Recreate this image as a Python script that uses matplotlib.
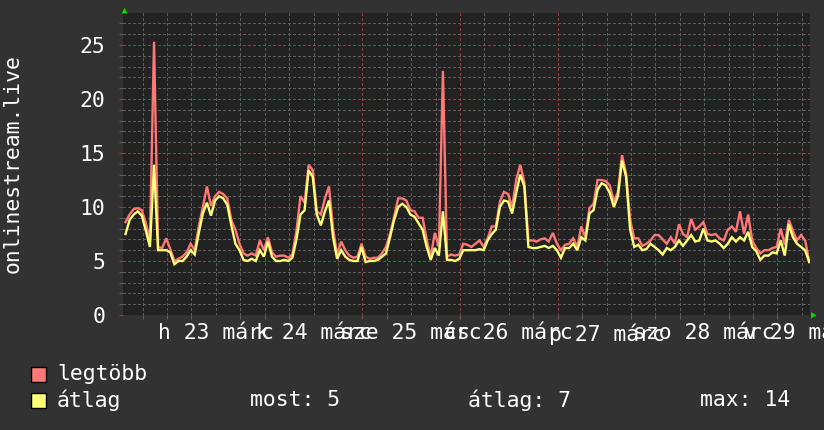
import matplotlib
matplotlib.use("Agg")
import matplotlib.pyplot as plt
from matplotlib.patches import Polygon, Rectangle
import numpy as np

# ---------------- data (hourly, starting ~13:20 on 22 March) ----------------
avg_values = [
    7.5, 8.8, 9.3, 9.6, 9.2, 7.8, 6.3, 13.9, 6.0, 6.0,
    6.0, 5.8, 4.7, 5.0, 5.0, 5.4, 6.0, 5.6, 7.6, 9.4,
    10.4, 9.2, 10.6, 11.0, 10.8, 10.2, 8.3, 6.6, 6.0, 5.1,
    5.0, 5.2, 5.0, 6.0, 5.4, 6.8, 5.4, 5.0, 5.0, 5.1,
    5.0, 5.3, 7.0, 9.3, 9.7, 13.4, 12.8, 9.3, 8.3, 9.6,
    10.6, 7.2, 5.2, 6.0, 5.4, 5.1, 5.0, 5.0, 6.3, 4.9,
    5.0, 5.0, 5.1, 5.4, 5.7, 7.2, 8.8, 10.0, 10.3, 10.0,
    9.3, 9.1, 8.5, 7.9, 6.3, 5.1, 6.2, 5.5, 9.6, 5.1,
    5.1, 5.0, 5.2, 6.0, 6.0, 6.0, 6.0, 6.1, 6.0, 6.9,
    7.5, 7.9, 10.0, 10.6, 10.5, 9.4, 11.3, 13.0, 11.9, 6.3,
    6.2, 6.2, 6.3, 6.4, 6.2, 6.4, 6.0, 5.3, 6.2, 6.2,
    6.6, 6.0, 7.2, 6.9, 9.4, 9.7, 11.6, 12.2, 12.0, 11.3,
    10.0, 11.0, 14.3, 12.8, 7.9, 6.3, 6.5, 6.0, 6.1, 6.6,
    6.3, 6.0, 5.6, 6.2, 6.0, 6.3, 6.9, 6.4, 6.9, 7.4,
    6.8, 6.9, 8.0, 6.9, 6.8, 6.9, 6.6, 6.2, 6.6, 7.2,
    6.8, 7.2, 6.9, 7.7, 6.3, 5.9, 5.1, 5.5, 5.5, 5.8,
    5.7, 6.9, 5.5, 8.4, 7.2, 6.6, 6.3, 6.0, 4.9,
]
max_values = [
    8.6, 9.3, 9.8, 9.9, 9.7, 8.5, 6.9, 25.3, 6.3, 6.2,
    7.1, 6.1, 5.0, 5.2, 5.4, 5.8, 6.6, 6.0, 8.2, 10.0,
    11.9, 10.1, 11.0, 11.4, 11.2, 10.8, 8.8, 7.9, 6.6, 5.7,
    5.5, 5.7, 5.5, 6.9, 6.0, 7.2, 5.8, 5.4, 5.5, 5.5,
    5.3, 5.6, 7.8, 11.0, 10.4, 13.9, 13.4, 9.6, 9.3, 10.8,
    11.9, 8.0, 5.6, 6.8, 6.0, 5.5, 5.3, 5.4, 6.6, 5.4,
    5.2, 5.3, 5.3, 5.7, 6.3, 7.5, 9.1, 10.8, 10.8, 10.6,
    9.7, 9.6, 9.0, 9.0, 7.0, 5.4, 7.6, 6.3, 22.6, 5.4,
    5.6, 5.5, 5.6, 6.6, 6.5, 6.3, 6.6, 6.9, 6.3, 7.1,
    8.2, 8.2, 10.5, 11.4, 11.2, 10.0, 12.5, 13.9, 12.3, 6.9,
    6.9, 6.8, 7.0, 7.1, 6.8, 7.6, 6.6, 6.0, 6.5, 6.6,
    7.1, 6.3, 8.2, 7.2, 9.9, 10.3, 12.5, 12.5, 12.4, 12.0,
    10.5, 11.4, 14.8, 13.1, 8.8, 7.1, 7.1, 6.4, 6.6, 6.9,
    7.4, 7.4, 7.0, 6.6, 7.2, 6.6, 8.4, 7.5, 7.2, 8.9,
    7.9, 8.2, 8.6, 7.5, 7.4, 7.5, 7.1, 6.9, 7.9, 8.2,
    7.7, 9.6, 7.5, 9.3, 6.9, 6.2, 5.7, 6.0, 6.0, 6.2,
    6.3, 8.0, 6.5, 8.8, 7.8, 6.9, 7.4, 6.9, 5.0,
]
day_labels = ["h 23 márc", "k 24 márc", "sze 25 márc", "cs 26 márc",
              "p 27 márc", "szo 28 márc", "v 29 márc"]
y_ticks = [0, 5, 10, 15, 20, 25]
series_names = ["legtöbb", "átlag"]
stat_texts = ["most: 5", "átlag: 7", "max: 14"]
y_title = "onlinestream.live"

# ---------------- style ----------------
W, H = 824, 430
BG = "#323232"
PLOT_BG = "#222222"
MINOR = "#5e5e5e"
MAJOR = "#8c4242"
RED = "#ff7777"
YELLOW = "#ffff77"
FONT = "DejaVu Sans Mono"
FS = 15.4

plt.rcParams["font.family"] = FONT

fig = plt.figure(figsize=(W / 100, H / 100), dpi=100, facecolor=BG)
x0, x1, ytop, ybot = 123.5, 810.0, 13.0, 315.0
ax = fig.add_axes([x0 / W, 1 - ybot / H, (x1 - x0) / W, (ybot - ytop) / H])
ax.set_facecolor(PLOT_BG)
for s in ax.spines.values():
    s.set_visible(False)

hours = np.arange(len(avg_values)) + 0.5
xmax = 168.7
ymax = 27.96
ax.set_xlim(0, xmax)
ax.set_ylim(0, ymax)

midnight0 = 10.7
dash = (0, (2, 2))
# horizontal grid
for v in range(1, 28):
    ax.axhline(v, color=MAJOR if v % 5 == 0 else MINOR, lw=1.0, ls=dash,
               zorder=1, antialiased=False)
# vertical grid (6h minor, 24h major)
for k in range(-2, 30):
    t = midnight0 + 6 * k
    if 0 < t < xmax:
        ax.axvline(t, color=MAJOR if k % 4 == 0 else MINOR, lw=1.0, ls=dash,
                   zorder=1, antialiased=False)

ax.plot(hours, max_values, color=RED, lw=1.7, zorder=3, solid_joinstyle="miter")
ax.plot(hours, avg_values, color=YELLOW, lw=1.7, zorder=4, solid_joinstyle="miter")

# ticks
ax.set_yticks(y_ticks)
ax.set_yticklabels([str(v) for v in y_ticks])
ax.set_yticks(range(0, 28), minor=True)
ax.tick_params(axis="y", which="major", length=3, width=0.8, color=MAJOR,
               colors="white", labelsize=FS, pad=10, direction="out")
ax.tick_params(axis="y", which="minor", length=3, width=0.8, color=MINOR, direction="out")
for lab in ax.get_yticklabels():
    lab.set_color("white")

noon_pos = [midnight0 + 12 + 24 * i for i in range(len(day_labels))]
ax.set_xticks(noon_pos)
ax.set_xticklabels(day_labels)
minor_x = [midnight0 + 6 * k for k in range(-1, 28) if 0 < midnight0 + 6 * k < xmax]
ax.set_xticks(minor_x, minor=True)
ax.tick_params(axis="x", which="major", length=0, labelsize=FS, pad=6, colors="white")
ax.tick_params(axis="x", which="minor", length=3, width=0.8, color=MINOR, direction="out")
for lab in ax.get_xticklabels():
    lab.set_clip_on(False)

# green arrows
def px(x, y):
    return (x / W, 1 - y / H)

fig.patches.append(Polygon([px(121.5, 13.5), px(127.5, 13.5), px(124.5, 8)],
                           closed=True, transform=fig.transFigure,
                           facecolor="#00dd00", edgecolor="none", figure=fig))
fig.patches.append(Polygon([px(811, 312), px(811, 318.5), px(816.5, 315.2)],
                           closed=True, transform=fig.transFigure,
                           facecolor="#00dd00", edgecolor="none", figure=fig))

# y title
fig.text(13 / W, 1 - 164 / H, y_title, rotation=90, ha="center", va="center",
         color="white", fontsize=FS, family=FONT)

# legend
rows = [(374.5, RED, series_names[0]), (400.5, YELLOW, series_names[1])]
for yc, col, name in rows:
    fig.patches.append(Rectangle(px(31.5, yc + 7.5), 15 / W, 15 / H,
                                 transform=fig.transFigure, facecolor=col,
                                 edgecolor="black", lw=1.0, figure=fig))
    fig.text(57 / W, 1 - yc / H, name, ha="left", va="center", color="white",
             fontsize=FS, family=FONT)
for xs, txt in zip([250, 468, 700], stat_texts):
    fig.text(xs / W, 1 - 400.5 / H, txt, ha="left", va="center", color="white",
             fontsize=FS, family=FONT)

fig.savefig("out.png", dpi=100, facecolor=BG)
